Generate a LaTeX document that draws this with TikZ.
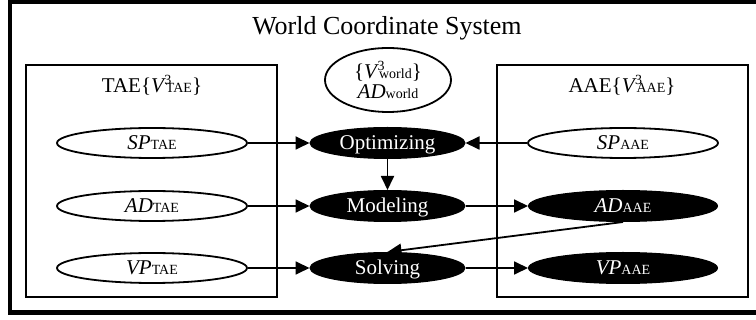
\documentclass[tikz,border=0pt]{standalone}
\usepackage{fontspec}
\setmainfont{Liberation Serif}
\usetikzlibrary{arrows.meta,shapes.geometric}
\newcommand{\sbs}[1]{{\fontsize{14}{14}\selectfont #1}}
\newcommand{\supsub}[2]{\rlap{\kern-1.5pt\raisebox{8pt}{\sbs{#1}}}\sbs{#2}}
\tikzset{
  lbl/.style={font=\fontsize{21}{21}\selectfont},
  wnode/.style={ellipse, draw, line width=1.8pt, fill=white, inner sep=0pt,
     minimum width=190pt, minimum height=30pt, text height=14pt, text depth=0pt, lbl},
  bnode/.style={ellipse, draw, line width=1pt, fill=black, text=white, inner sep=0pt,
     minimum width=155pt, minimum height=31pt, text height=14pt, text depth=0pt, lbl},
  bnodewide/.style={bnode, minimum width=189pt},
  box/.style={draw, line width=1.6pt},
  arr/.style={line width=1.8pt, -{Triangle[length=14pt,width=13pt]}},
}
\begin{document}
\begin{tikzpicture}[x=1pt,y=-1pt]
\useasboundingbox (0,0) rectangle (756,320);
\begin{scope}
\clip (0,0) rectangle (756,320);
\draw[line width=4.5pt] (10,2) rectangle (775,312.5);
\end{scope}
\node[font=\fontsize{26}{26}\selectfont, anchor=base] (title) at (387,35) {World Coordinate System};
% boxes
\draw[box] (26,65) rectangle (277,297);
\draw[box] (497,65) rectangle (748,297);
\node[lbl, anchor=base] (tael) at (152,93) {TAE\{\textit{V}\supsub{3}{TAE}\}};
\node[lbl, anchor=base] (aael) at (622,93) {AAE\{\textit{V}\supsub{3}{AAE}\}};
% world ellipse
\node[ellipse, draw, line width=1.8pt, minimum width=126pt, minimum height=64pt, inner sep=0pt,
      align=center, font=\fontsize{21}{20}\selectfont] (world) at (388,80)
  {\{\textit{V}\supsub{3}{world}\}\\\textit{AD}\sbs{world}};
% left column
\node[wnode] (sptae) at (152,143) {\textit{SP}\sbs{TAE}};
\node[wnode] (adtae) at (152,206) {\textit{AD}\sbs{TAE}};
\node[wnode] (vptae) at (152,268) {\textit{VP}\sbs{TAE}};
% middle
\node[bnode] (opt) at (387.5,143) {Optimizing};
\node[bnode] (mod) at (387.5,206) {Modeling};
\node[bnode] (solv) at (387.5,268) {Solving};
% right
\node[wnode] (spaae) at (623,143) {\textit{SP}\sbs{AAE}};
\node[bnodewide] (adaae) at (623,206) {\textit{AD}\sbs{AAE}};
\node[bnodewide] (vpaae) at (623,268) {\textit{VP}\sbs{AAE}};
% arrows
\draw[arr] (sptae) -- (opt);
\draw[arr] (spaae) -- (opt);
\draw[arr] (opt) -- (mod);
\draw[arr] (adtae) -- (mod);
\draw[arr] (mod) -- (adaae);
\draw[arr] (adaae.south) -- (solv.north);
\draw[arr] (vptae) -- (solv);
\draw[arr] (solv) -- (vpaae);
\end{tikzpicture}
\end{document}
